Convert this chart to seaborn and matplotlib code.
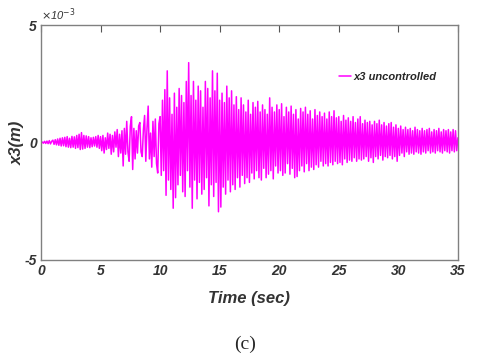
import numpy as np
import pandas as pd
import seaborn as sns
import matplotlib.pyplot as plt
from matplotlib.ticker import FuncFormatter

sns.set_style("white")
plt.rcParams["font.family"] = ["Liberation Sans Narrow", "Liberation Sans", "DejaVu Sans"]
plt.rcParams["axes.unicode_minus"] = False

# displacement of floor 3, in units of 1e-3 m, sampled every 0.1 s
seg_00_05 = [0.00, 0.02, -0.03, 0.05, -0.04, 0.06, -0.05, 0.08, -0.06, 0.05,
             0.10, -0.08, 0.12, -0.10, 0.15, -0.12, 0.18, -0.15, 0.20, -0.14,
             0.22, -0.18, 0.25, -0.20, 0.18, -0.22, 0.26, -0.20, 0.24, -0.25,
             0.30, -0.22, 0.35, -0.30, 0.42, -0.28, 0.30, -0.25, 0.28, -0.20,
             0.25, -0.22, 0.20, -0.18, 0.22, -0.15, 0.25, -0.20, 0.30, -0.25]
seg_05_10 = [0.25, -0.35, 0.30, -0.45, 0.20, -0.30, 0.40, -0.25, 0.35, -0.50,
             0.30, -0.40, 0.45, -0.20, 0.55, -0.60, 0.35, -0.45, 0.50, -1.00,
             0.60, -0.50, 0.90, -0.40, -0.80, 0.70, 1.10, -1.15, 0.60, -0.70,
             0.50, -0.45, 0.70, 0.85, -0.40, -0.60, 0.55, 1.15, -0.80, 0.60,
             1.55, -0.70, 0.40, -1.05, 0.90, -0.60, 1.00, -0.90, -1.30, 0.80]
seg_10_15 = [1.10, -1.40, 1.80, -1.20, 2.25, -2.25, 3.05, -1.60, 1.90, -2.00,
             1.20, -2.80, 2.10, -2.35, 1.50, -1.80, 2.30, -1.40, 2.00, -2.10,
             1.70, -2.30, 2.60, -1.20, 3.40, -1.90, 2.00, -2.80, 2.60, -1.60,
             1.80, -2.40, 2.40, -1.70, 2.20, -2.20, 1.50, -2.00, 2.60, -1.50,
             2.30, -2.70, 1.90, -1.80, 3.05, -2.30, 2.20, -1.70, 2.95, -2.95]
seg_15_20 = [1.80, -2.75, 2.10, -1.90, 1.70, -2.20, 2.40, -1.60, 1.90, -2.10,
             2.20, -1.80, 1.60, -2.00, 1.95, -1.50, 1.40, -1.90, 1.90, -1.40,
             1.60, -1.75, 1.30, -1.50, 1.80, -1.70, 1.20, -1.30, 1.70, -1.55,
             1.50, -1.20, 1.75, -1.50, 1.30, -1.60, 1.60, -1.10, 1.40, -1.50,
             1.20, -1.35, 1.90, -1.20, 1.50, -1.55, 1.30, -1.00, 1.60, -1.30]
seg_20_25 = [1.40, -1.20, 1.65, -1.40, 1.10, -1.30, 1.50, -0.90, 1.30, -1.35,
             1.55, -1.10, 1.20, -1.50, 1.40, -1.45, 1.00, -1.20, 1.45, -1.00,
             1.30, -1.25, 1.50, -0.90, 1.20, -1.20, 1.35, -1.05, 1.00, -1.15,
             1.40, -0.95, 1.15, -1.05, 1.30, -0.80, 1.10, -1.00, 1.25, -0.90,
             1.00, -1.00, 1.30, -0.85, 1.10, -0.95, 1.35, -0.80, 1.05, -0.90]
seg_25_30 = [1.10, -0.85, 0.90, -0.95, 1.15, -0.70, 0.95, -0.85, 1.05, -0.75,
             0.90, -0.80, 1.10, -0.65, 0.85, -0.80, 1.00, -0.70, 1.10, -0.75,
             0.80, -0.70, 0.95, -0.60, 0.85, -0.80, 0.90, -0.65, 0.75, -0.85,
             0.90, -0.60, 0.80, -0.70, 0.95, -0.55, 0.75, -0.75, 0.85, -0.60,
             0.70, -0.65, 0.80, -0.55, 0.85, -0.70, 0.65, -0.60, 0.75, -0.80]
seg_30_35 = [0.60, -0.55, 0.70, -0.45, 0.55, -0.60, 0.65, -0.40, 0.55, -0.50,
             0.60, -0.45, 0.50, -0.50, 0.65, -0.40, 0.55, -0.45, 0.50, -0.50,
             0.60, -0.40, 0.50, -0.45, 0.55, -0.35, 0.60, -0.45, 0.45, -0.40,
             0.55, -0.45, 0.50, -0.35, 0.60, -0.40, 0.45, -0.45, 0.55, -0.35,
             0.50, -0.40, 0.55, -0.45, 0.45, -0.35, 0.55, -0.40, 0.50, -0.35, 0.20]

x3_mm = np.array(seg_00_05 + seg_05_10 + seg_10_15 + seg_15_20
                 + seg_20_25 + seg_25_30 + seg_30_35)
time = np.round(np.arange(len(x3_mm)) * 0.1, 1)
df = pd.DataFrame({"time": time, "x3": x3_mm * 1e-3})

fig = plt.figure(figsize=(4.82, 3.58), dpi=100)
ax = fig.add_axes([0.085, 0.274, 0.865, 0.656])
sns.lineplot(data=df, x="time", y="x3", color="#ff00ff", lw=1.1,
             label="x3 uncontrolled", ax=ax)

ax.set_xlim(0, 35)
ax.set_ylim(-5e-3, 5e-3)
ax.set_xticks(np.arange(0, 36, 5))
ax.set_yticks([-5e-3, 0, 5e-3])
ax.yaxis.set_major_formatter(FuncFormatter(lambda v, p: f"{v * 1e3:g}"))
ax.text(0.0, 1.01, r"$\times$10$^{-3}$", transform=ax.transAxes, fontsize=8,
        fontstyle="italic", color="#333333", ha="left", va="bottom")

ax.tick_params(direction="in", length=5, width=0.8, colors="#555555",
               top=True, right=False, labelsize=10, pad=3)
for lab in ax.get_xticklabels() + ax.get_yticklabels():
    lab.set_fontweight("bold")
    lab.set_fontstyle("italic")
    lab.set_color("#333333")
for sp in ax.spines.values():
    sp.set_color("#808080")
    sp.set_linewidth(1.0)

ax.set_xlabel("Time (sec)", fontsize=12, fontweight="bold", fontstyle="italic",
              color="#333333", labelpad=9)
ax.set_ylabel("x3(m)", fontsize=12, fontweight="bold", fontstyle="italic",
              color="#333333")
ax.yaxis.set_label_coords(-0.04, 0.5)

leg = ax.legend(loc="center left", bbox_to_anchor=(0.69, 0.78), frameon=False,
                handlelength=1.1, handletextpad=0.2,
                prop={"size": 8, "weight": "bold", "style": "italic"})

fig.text(0.508, 1 - 344 / 358, "(c)", ha="center", va="center", fontsize=14,
         family=["Liberation Serif", "DejaVu Serif"])

fig.savefig("out.png", dpi=100)
